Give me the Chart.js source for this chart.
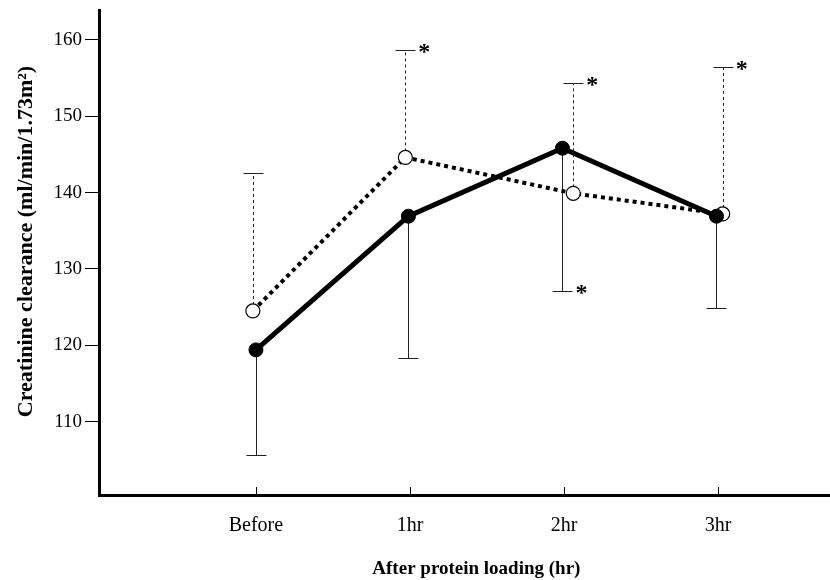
<!DOCTYPE html>
<html>
<head>
<meta charset="utf-8">
<script src="https://cdn.jsdelivr.net/npm/chart.js@4.4.1/dist/chart.umd.min.js"></script>
<style>
  html, body { margin: 0; padding: 0; background: #fff; }
  #main { display: block; }
</style>
</head>
<body>
<canvas id="main" width="830" height="580"></canvas>
<script>
const categories = ['Before', '1hr', '2hr', '3hr'];
const yTicks = [110, 120, 130, 140, 150, 160];

// solid line, filled circles (mean, lower SD bar)
const filledX = [0, 0.99, 1.99, 2.99];
const filledMean = [119.4, 136.9, 145.8, 136.9];
const filledLower = [105.7, 118.4, 127.1, 124.9];
const filledStar = [false, false, true, false];

// dotted line, open circles (mean, upper SD bar)
const openX = [-0.02, 0.97, 2.06, 3.03];
const openMean = [124.5, 144.6, 139.9, 137.2];
const openUpper = [142.5, 158.6, 154.3, 156.4];
const openStar = [false, true, true, true];

const serif = "'Liberation Serif', 'Times New Roman', serif";

// SD bars, significance marks and the short inner ticks on the x axis
const extras = {
  id: 'extras',
  beforeDatasetsDraw(chart) {
    const { ctx, scales: { x, y } } = chart;
    ctx.save();
    ctx.strokeStyle = '#222';
    ctx.lineWidth = 1;
    const bar = (xv, from, to, dash) => {
      const px = Math.round(x.getPixelForValue(xv)) + 0.5;
      const y1 = y.getPixelForValue(from);
      const y2 = Math.round(y.getPixelForValue(to)) + 0.5;
      ctx.setLineDash(dash);
      ctx.beginPath();
      ctx.moveTo(px, y1);
      ctx.lineTo(px, y2);
      ctx.stroke();
      ctx.setLineDash([]);
      ctx.beginPath();
      ctx.moveTo(px - 10, y2);
      ctx.lineTo(px + 10, y2);
      ctx.stroke();
    };
    openX.forEach((v, i) => bar(v, openMean[i], openUpper[i], [3, 3]));
    filledX.forEach((v, i) => bar(v, filledMean[i], filledLower[i], []));
    ctx.restore();
  },
  afterDraw(chart) {
    const { ctx, chartArea, scales: { x, y } } = chart;
    ctx.save();
    ctx.fillStyle = '#000';
    ctx.font = 'bold 24px ' + serif;
    ctx.textAlign = 'center';
    ctx.textBaseline = 'alphabetic';
    const star = (xv, yv) => {
      ctx.fillText('*', x.getPixelForValue(xv) + 19, y.getPixelForValue(yv) + 9);
    };
    openX.forEach((v, i) => { if (openStar[i]) star(v, openUpper[i]); });
    filledX.forEach((v, i) => { if (filledStar[i]) star(v, filledLower[i]); });

    ctx.strokeStyle = '#000';
    ctx.lineWidth = 1;
    categories.forEach((c, i) => {
      const px = Math.round(x.getPixelForValue(i)) + 0.5;
      ctx.beginPath();
      ctx.moveTo(px, chartArea.bottom);
      ctx.lineTo(px, chartArea.bottom - 8);
      ctx.stroke();
    });
    ctx.restore();
  }
};

new Chart(document.getElementById('main'), {
  type: 'line',
  data: {
    datasets: [
      {
        label: 'filled',
        data: filledX.map((v, i) => ({ x: v, y: filledMean[i] })),
        borderColor: '#000',
        borderWidth: 5,
        pointRadius: 7,
        pointBackgroundColor: '#000',
        pointBorderColor: '#000',
        pointBorderWidth: 1
      },
      {
        label: 'open',
        data: openX.map((v, i) => ({ x: v, y: openMean[i] })),
        borderColor: '#000',
        borderWidth: 4,
        borderDash: [4, 4],
        pointRadius: 7,
        pointBackgroundColor: '#fff',
        pointBorderColor: '#000',
        pointBorderWidth: 1.2
      }
    ]
  },
  options: {
    responsive: false,
    animation: false,
    layout: { autoPadding: false, padding: { top: 10, right: 0, bottom: 0, left: 0 } },
    plugins: { legend: { display: false }, tooltip: { enabled: false } },
    scales: {
      x: {
        type: 'linear',
        min: -1.019,
        max: 3.727,
        afterBuildTicks: s => { s.ticks = categories.map((c, i) => ({ value: i })); },
        afterFit: s => { s.height = 85; s.paddingLeft = 0; s.paddingRight = 0; },
        grid: { drawOnChartArea: false, drawTicks: false },
        border: { display: true, width: 3, color: '#000' },
        ticks: {
          padding: 19,
          color: '#000',
          font: { family: serif, size: 20 },
          callback: v => categories[v]
        },
        title: {
          display: true,
          text: '     After protein loading (hr)',
          color: '#000',
          font: { family: serif, size: 19, weight: 'bold' },
          padding: { top: 0, bottom: 0 }
        }
      },
      y: {
        type: 'linear',
        min: 100.4,
        max: 163.9,
        afterBuildTicks: s => { s.ticks = yTicks.map(v => ({ value: v })); },
        afterFit: s => { s.width = 99; s.paddingTop = 0; s.paddingBottom = 0; },
        grid: { drawOnChartArea: false, drawTicks: true, tickLength: 14, color: '#000' },
        border: { display: true, width: 3, color: '#000' },
        ticks: {
          padding: 3,
          color: '#000',
          font: { family: serif, size: 19 }
        },
        title: {
          display: true,
          text: '    Creatinine clearance (ml/min/1.73m²)',
          color: '#000',
          font: { family: serif, size: 22, weight: 'bold' },
          padding: { top: 13, bottom: 0 }
        }
      }
    }
  },
  plugins: [extras]
});
</script>
</body>
</html>
